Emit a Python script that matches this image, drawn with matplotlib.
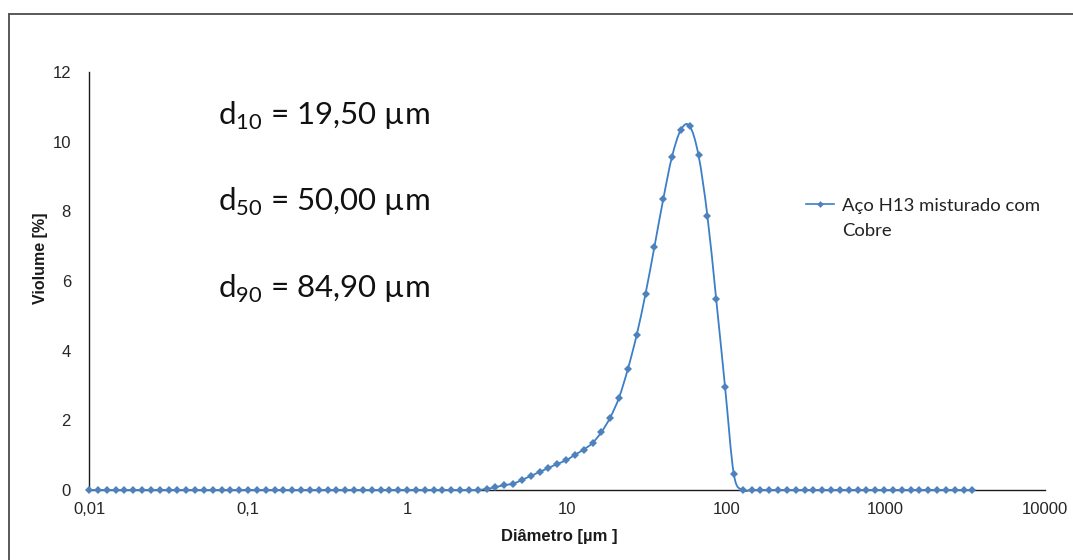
import numpy as np
import matplotlib
matplotlib.use("Agg")
import matplotlib.pyplot as plt
from matplotlib.path import Path
from matplotlib.patches import PathPatch
from matplotlib.lines import Line2D
from matplotlib.ticker import FixedLocator, FixedFormatter, NullLocator

# ---- data ----
# instrument size classes (µm): 101 geometric classes from 0.01 to 3500
diametro = np.geomspace(0.01, 3500, 101)
volume = [
    0, 0, 0, 0, 0, 0, 0, 0, 0, 0,
    0, 0, 0, 0, 0, 0, 0, 0, 0, 0,
    0, 0, 0, 0, 0, 0, 0, 0, 0, 0,
    0, 0, 0, 0, 0, 0, 0, 0, 0, 0,
    0, 0, 0, 0, 0, 0.03, 0.08, 0.14, 0.18, 0.29,
    0.40, 0.52, 0.63, 0.75, 0.85, 1.01, 1.16, 1.35, 1.66, 2.08,
    2.65, 3.47, 4.45, 5.63, 6.97, 8.34, 9.57, 10.34, 10.45, 9.61,
    7.88, 5.48, 2.97, 0.45, 0, 0, 0, 0, 0, 0,
    0, 0, 0, 0, 0, 0, 0, 0, 0, 0,
    0, 0, 0, 0, 0, 0, 0, 0, 0, 0,
    0,
]
serie_nome = ["Aço H13 misturado com", "Cobre"]
x_ticks = [0.01, 0.1, 1, 10, 100, 1000, 10000]
x_tick_labels = ["0,01", "0,1", "1", "10", "100", "1000", "10000"]
y_ticks = [0, 2, 4, 6, 8, 10, 12]
y_tick_labels = ["0", "2", "4", "6", "8", "10", "12"]
anotacoes = [("10", "19,50"), ("50", "50,00"), ("90", "84,90")]

# ---- figure ----
W, H = 1073, 560
fig = plt.figure(figsize=(W / 100, H / 100), dpi=100)
fig.patch.set_facecolor("white")

ax = fig.add_axes([89 / W, 1 - 490 / H, (1045 - 89) / W, (490 - 72) / H])
ax.set_xscale("log")
ax.set_xlim(0.01, 10000)
ax.set_ylim(0, 12)
for s in ("top", "right"):
    ax.spines[s].set_visible(False)
for s in ("left", "bottom"):
    ax.spines[s].set_color("#1a1a1a")
    ax.spines[s].set_linewidth(1.0)

ax.xaxis.set_major_locator(FixedLocator(x_ticks))
ax.xaxis.set_major_formatter(FixedFormatter(x_tick_labels))
ax.xaxis.set_minor_locator(NullLocator())
ax.set_yticks(y_ticks)
ax.set_yticklabels(y_tick_labels)
ax.tick_params(axis="both", length=0, labelsize=12, labelcolor="#262626")
ax.tick_params(axis="y", pad=13)
ax.tick_params(axis="x", pad=9)
for lab in ax.get_xticklabels() + ax.get_yticklabels():
    lab.set_fontfamily("Liberation Sans")

line_color = "#3a7fc8"
marker_color = "#4f81bd"

# smoothed line (cubic Bezier through the data points, in log-x space)
lx = np.log10(diametro)
vy = np.asarray(volume, dtype=float)
pts = np.column_stack([lx, vy])
n = len(pts)
verts = [pts[0]]
codes = [Path.MOVETO]
for i in range(n - 1):
    p0 = pts[i - 1] if i > 0 else pts[i]
    p1 = pts[i]
    p2 = pts[i + 1]
    p3 = pts[i + 2] if i + 2 < n else pts[i + 1]
    c1 = p1 + (p2 - p0) / 6.0
    c2 = p2 - (p3 - p1) / 6.0
    verts += [c1, c2, p2]
    codes += [Path.CURVE4] * 3
verts = np.array(verts)
verts[:, 0] = 10 ** verts[:, 0]
patch = PathPatch(Path(verts, codes), facecolor="none", edgecolor=line_color,
                  lw=1.3, zorder=3, clip_on=False)
ax.add_patch(patch)
ax.plot(diametro, volume, linestyle="none", marker="D", markersize=3.8,
        color=marker_color, markeredgewidth=0, zorder=4, clip_on=False)

# axis titles
fig.text(559 / W, 1 - 537 / H, "Diâmetro [µm ]", ha="center", va="center",
         fontsize=12, fontweight="bold", family="Liberation Sans", color="#1a1a1a")
fig.text(40 / W, 1 - 258 / H, "Violume [%]", ha="center", va="center",
         rotation=90, fontsize=11.5, fontweight="bold", family="Liberation Sans",
         color="#1a1a1a")

# annotations
baselines = [125, 211, 298]
for (sub, val), yb in zip(anotacoes, baselines):
    fig.text(218 / W, 1 - yb / H,
             "d$_{\\mathregular{" + sub + "}}$ = " + val + " µm",
             ha="left", va="baseline", fontsize=22.5, family="Lato", color="#111111")

# legend (manual)
fig.add_artist(Line2D([806 / W, 834 / W], [1 - 204 / H, 1 - 204 / H],
                      color=line_color, lw=1.2))
fig.add_artist(Line2D([820 / W], [1 - 204 / H], marker="D", markersize=3.4,
                      color=marker_color, markeredgewidth=0, linestyle="none"))
fig.text(842 / W, 1 - 211 / H, serie_nome[0], ha="left", va="baseline",
         fontsize=13.3, family="Lato", color="#222222")
fig.text(842 / W, 1 - 236 / H, serie_nome[1], ha="left", va="baseline",
         fontsize=13.3, family="Lato", color="#222222")

# outer chart border (top and left visible)
fig.add_artist(Line2D([9 / W, 1.0], [1 - 14 / H, 1 - 14 / H], color="#595959", lw=1.4))
fig.add_artist(Line2D([9 / W, 9 / W], [0, 1 - 14 / H], color="#595959", lw=1.4))

fig.savefig("out.png", dpi=100, facecolor="white")
